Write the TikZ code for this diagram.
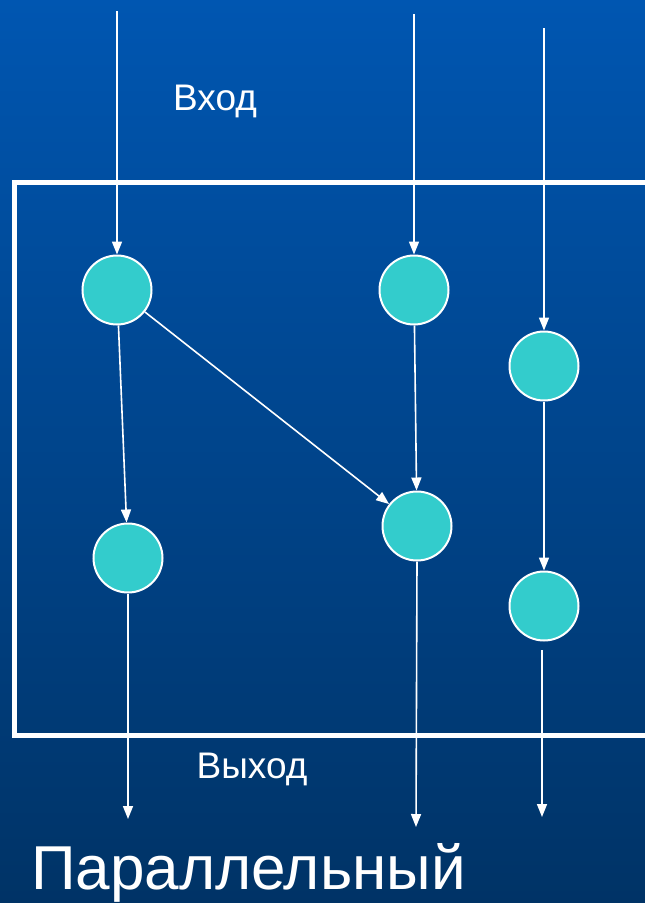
\documentclass[tikz,border=0pt]{standalone}
\usepackage{fontspec}
\setmainfont{Liberation Sans}
\usepackage{tikz}
\usetikzlibrary{arrows.meta, positioning}

\definecolor{topblue}{HTML}{0056B1}
\definecolor{bottomblue}{HTML}{003366}
\definecolor{procfill}{HTML}{33CCCC}

\begin{document}
\begin{tikzpicture}[x=1pt, y=-1pt,
    proc/.style={circle, draw=white, fill=procfill, line width=2pt,
                 minimum size=69pt, inner sep=0pt},
    arrow/.style={line width=1.6pt, white, -{Triangle[length=13pt, width=10pt]}},
    frame/.style={draw=white, line width=5pt},
    label_text/.style={text=white, inner sep=0pt, font=\fontsize{37}{44}\selectfont},
    title_text/.style={text=white, inner sep=0pt, font=\fontsize{62}{70}\selectfont}]

    % background
    \clip (0,0) rectangle (645,903);
    \shade[top color=topblue, bottom color=bottomblue] (0,0) rectangle (645,903);

    \draw[frame] (14,182) rectangle (665,735.5);

    \node[proc] (p1) at (117,290) {};
    \node[proc] (p2) at (414,290) {};
    \node[proc] (p3) at (544,366) {};
    \node[proc] (q1) at (128,558) {};
    \node[proc] (q2) at (417,526) {};
    \node[proc] (q3) at (544,606) {};

    % inputs
    \coordinate (in1) at (117,11);
    \coordinate (in2) at (414,14);
    \coordinate (in3) at (544,28);
    % outputs
    \coordinate (out1) at (128,819);
    \coordinate (out2) at (416,827);
    \coordinate (start3) at (542,650);
    \coordinate (out3) at (542,817);

    \draw[arrow] (in1) -- (p1);
    \draw[arrow] (in2) -- (p2);
    \draw[arrow] (in3) -- (p3);

    \draw[arrow] (p1) -- (q1);
    \draw[arrow] (p1) -- (q2);
    \draw[arrow] (p2) -- (q2);
    \draw[arrow] (p3) -- (q3);

    \draw[arrow] (q1.south) -- (out1);
    \draw[arrow] (q2.south) -- (out2);
    \draw[arrow] (start3) -- (out3);

    \node[label_text, anchor=base] (inlabel) at (215,110) {Вход};
    \node[label_text, anchor=base] (outlabel) at (252,778) {Выход};
    \node[title_text, anchor=base west] (title) at (31,889) {Параллельный};

\end{tikzpicture}
\end{document}
